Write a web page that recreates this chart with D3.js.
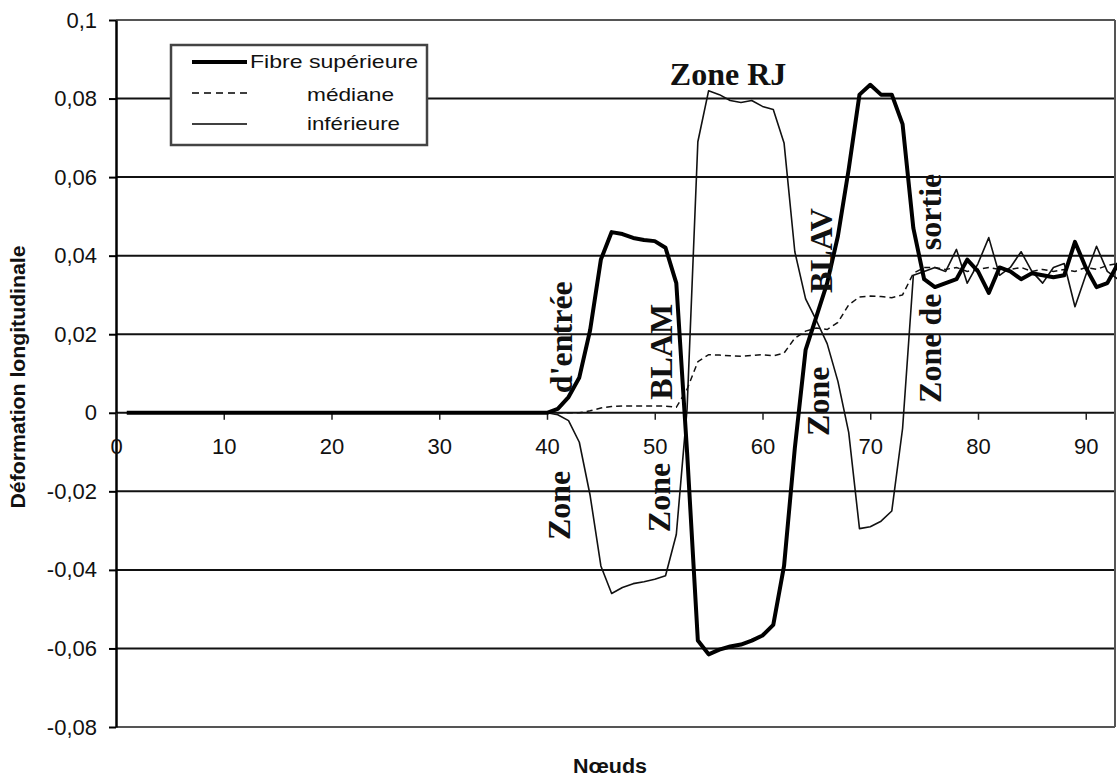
<!DOCTYPE html>
<html>
<head>
<meta charset="utf-8">
<script src="https://cdn.jsdelivr.net/npm/d3@7/dist/d3.min.js"></script>
<style>
  html, body { margin: 0; padding: 0; background: #fff; }
  svg { display: block; }
</style>
</head>
<body>
<svg id="chart" width="1117" height="778"></svg>
<script>
// ---------- DATA ----------
const nodes = d3.range(1, 94); // nœuds 1..93

const upper = [
  0,0,0,0,0,0,0,0,0,0,
  0,0,0,0,0,0,0,0,0,0,
  0,0,0,0,0,0,0,0,0,0,
  0,0,0,0,0,0,0,0,0,0,
  0.001, 0.004, 0.009, 0.021, 0.039, 0.046, 0.0455, 0.0445, 0.044, 0.0437,
  0.042, 0.033, -0.01, -0.058, -0.0615, -0.0603, -0.0595, -0.059, -0.058, -0.0567,
  -0.054, -0.039, -0.009, 0.016, 0.0245, 0.033, 0.045, 0.062, 0.081, 0.0835,
  0.081, 0.081, 0.0735, 0.047, 0.034, 0.032, 0.033, 0.034, 0.039, 0.036,
  0.0305, 0.037, 0.036, 0.034, 0.0355, 0.035, 0.0345, 0.035, 0.0435, 0.037,
  0.032, 0.033, 0.038
];

const median = [
  0,0,0,0,0,0,0,0,0,0,
  0,0,0,0,0,0,0,0,0,0,
  0,0,0,0,0,0,0,0,0,0,
  0,0,0,0,0,0,0,0,0,0,
  0, 0, 0, 0.0005, 0.0012, 0.0016, 0.0017, 0.0017, 0.0017, 0.0017,
  0.0017, 0.0014, 0.006, 0.013, 0.0148, 0.0147, 0.0145, 0.0144, 0.0146, 0.0148,
  0.0145, 0.0152, 0.019, 0.0208, 0.0216, 0.0212, 0.023, 0.0275, 0.0295, 0.0297,
  0.0296, 0.0293, 0.030, 0.0355, 0.037, 0.037, 0.0365, 0.037, 0.036, 0.0365,
  0.037, 0.0365, 0.0365, 0.037, 0.036, 0.0365, 0.036, 0.0365, 0.036, 0.037,
  0.0365, 0.0375, 0.038
];

const lower = [
  0,0,0,0,0,0,0,0,0,0,
  0,0,0,0,0,0,0,0,0,0,
  0,0,0,0,0,0,0,0,0,0,
  0,0,0,0,0,0,0,0,0,0,
  -0.0005, -0.002, -0.0075, -0.021, -0.039, -0.046, -0.0445, -0.0435, -0.043, -0.0424,
  -0.0415, -0.031, 0.001, 0.069, 0.082, 0.081, 0.0795, 0.079, 0.0795, 0.078,
  0.0772, 0.0687, 0.041, 0.029, 0.0235, 0.0176, 0.008, -0.005, -0.0295, -0.029,
  -0.0276, -0.025, -0.004, 0.035, 0.036, 0.037, 0.036, 0.0416, 0.033, 0.038,
  0.0446, 0.035, 0.037, 0.041, 0.036, 0.033, 0.037, 0.038, 0.027, 0.035,
  0.0424, 0.036, 0.034
];

const xTicks = [0, 10, 20, 30, 40, 50, 60, 70, 80, 90];
const yTicks = [0.1, 0.08, 0.06, 0.04, 0.02, 0, -0.02, -0.04, -0.06, -0.08];
const yTickLabels = ["0,1", "0,08", "0,06", "0,04", "0,02", "0", "-0,02", "-0,04", "-0,06", "-0,08"];
const gridValues = [0.08, 0.06, 0.04, 0.02, 0, -0.02, -0.04, -0.06];

const seriesNames = ["Fibre supérieure", "médiane", "inférieure"];
const xTitle = "Nœuds";
const yTitle = "Déformation longitudinale";

// annotations in data coordinates (node, value)
const annotations = [
  { text: "Zone RJ",  n: 51.4,  v: 0.0835, rot: false },
  { text: "d'entrée", n: 42.32, v: 0.0050, rot: true },
  { text: "Zone",     n: 42.13, v: -0.0324, rot: true },
  { text: "BLAM",     n: 51.6,  v: 0.0033, rot: true },
  { text: "Zone",     n: 51.42, v: -0.0304, rot: true },
  { text: "BLAV",     n: 66.47, v: 0.0305, rot: true },
  { text: "Zone",     n: 66.19, v: -0.0059, rot: true },
  { text: "Zone de",  n: 76.55, v: 0.0025, rot: true },
  { text: "sortie",   n: 76.55, v: 0.0414, rot: true }
];

// ---------- LAYOUT ----------
const svg = d3.select("#chart");
const pLeft = 116, pRight = 1115, pTop = 20, pBottom = 727;

const x = d3.scaleLinear().domain([0, 92.9]).range([pLeft, 1117]);
const y = d3.scaleLinear().domain([-0.08, 0.1]).range([pBottom, pTop]);

svg.append("rect").attr("width", 1117).attr("height", 778).attr("fill", "#fff");

// gridlines
svg.append("g").selectAll("line").data(gridValues).join("line")
  .attr("x1", pLeft).attr("x2", pRight)
  .attr("y1", d => y(d)).attr("y2", d => y(d))
  .attr("stroke", "#111").attr("stroke-width", 2);

// plot border (top, bottom, right) - grey textured
const bord = svg.append("g").attr("stroke", "#555").attr("stroke-width", 2).attr("fill", "none");
bord.append("line").attr("x1", pLeft).attr("x2", pRight).attr("y1", y(0.1)).attr("y2", y(0.1));
bord.append("line").attr("x1", pLeft).attr("x2", pRight).attr("y1", y(-0.08)).attr("y2", y(-0.08));
bord.append("line").attr("x1", pRight).attr("x2", pRight).attr("y1", y(0.1)).attr("y2", y(-0.08));

// y axis
const yAxis = svg.append("g").attr("transform", `translate(${pLeft},0)`)
  .call(d3.axisLeft(y).tickValues(yTicks).tickFormat((d, i) => yTickLabels[i]).tickSize(7).tickPadding(12).tickSizeOuter(0));
yAxis.select(".domain").attr("stroke", "#000").attr("stroke-width", 2.5);
yAxis.selectAll(".tick line").attr("stroke", "#000").attr("stroke-width", 2);
yAxis.selectAll(".tick text").attr("font-family", "Liberation Sans, Arial, sans-serif")
  .attr("font-size", 22).attr("fill", "#111");

// x axis (at zero line)
const xAxis = svg.append("g").attr("transform", `translate(0,${y(0)})`)
  .call(d3.axisBottom(x).tickValues(xTicks).tickFormat(d3.format("d")).tickSize(7).tickPadding(19).tickSizeOuter(0));
xAxis.select(".domain").remove();
xAxis.selectAll(".tick line").attr("stroke", "#222").attr("stroke-width", 1.5);
xAxis.selectAll(".tick text").attr("font-family", "Liberation Sans, Arial, sans-serif")
  .attr("font-size", 22).attr("fill", "#111");

// series
const lineOf = (vals) => d3.line()
  .x((d, i) => x(nodes[i]))
  .y(d => y(d))(vals);

svg.append("defs").append("clipPath").attr("id", "clip")
  .append("rect").attr("x", pLeft).attr("y", 0).attr("width", 1117 - pLeft).attr("height", 778);

const g = svg.append("g").attr("clip-path", "url(#clip)");
g.append("path").attr("d", lineOf(median)).attr("fill", "none")
  .attr("stroke", "#111").attr("stroke-width", 1.5).attr("stroke-dasharray", "6,4");
g.append("path").attr("d", lineOf(lower)).attr("fill", "none")
  .attr("stroke", "#111").attr("stroke-width", 1.6).attr("stroke-linejoin", "round");
g.append("path").attr("d", lineOf(upper)).attr("fill", "none")
  .attr("stroke", "#000").attr("stroke-width", 4).attr("stroke-linejoin", "round");

// annotations
svg.append("g").selectAll("text").data(annotations).join("text")
  .attr("transform", d => d.rot
      ? `translate(${x(d.n)},${y(d.v)}) rotate(-90)`
      : `translate(${x(d.n)},${y(d.v)})`)
  .attr("font-family", "Liberation Serif, Times New Roman, serif")
  .attr("font-weight", "bold").attr("font-size", 32).attr("fill", "#111")
  .text(d => d.text);

// legend
const lg = svg.append("g");
lg.append("rect").attr("x", 171).attr("y", 45).attr("width", 256).attr("height", 100)
  .attr("fill", "#fff").attr("stroke", "#444").attr("stroke-width", 2.5);
const legendRows = [
  { y: 62, ty: 68, tx: 250, len: 168, dash: null, w: 4 },
  { y: 93, ty: 101, tx: 307, len: 87, dash: "7,5", w: 1.6 },
  { y: 124, ty: 130, tx: 307, len: 93, dash: null, w: 1.6 }
];
legendRows.forEach((r, i) => {
  lg.append("line").attr("x1", 192).attr("x2", 247).attr("y1", r.y).attr("y2", r.y)
    .attr("stroke", "#000").attr("stroke-width", r.w)
    .attr("stroke-dasharray", r.dash);
  lg.append("text").attr("x", r.tx).attr("y", r.ty)
    .attr("font-family", "Liberation Sans, Arial, sans-serif").attr("font-size", 19)
    .attr("textLength", r.len).attr("lengthAdjust", "spacingAndGlyphs")
    .attr("fill", "#111").text(seriesNames[i]);
});

// axis titles
svg.append("text").attr("x", 610).attr("y", 773).attr("text-anchor", "middle")
  .attr("font-family", "Liberation Sans, Arial, sans-serif").attr("font-weight", "bold")
  .attr("font-size", 20).attr("textLength", 74).attr("lengthAdjust", "spacingAndGlyphs")
  .attr("fill", "#111").text(xTitle);

svg.append("text").attr("transform", "translate(25,377) rotate(-90)").attr("text-anchor", "middle")
  .attr("font-family", "Liberation Sans, Arial, sans-serif").attr("font-weight", "bold")
  .attr("font-size", 20).attr("textLength", 263).attr("lengthAdjust", "spacingAndGlyphs")
  .attr("fill", "#111").text(yTitle);
</script>
</body>
</html>
